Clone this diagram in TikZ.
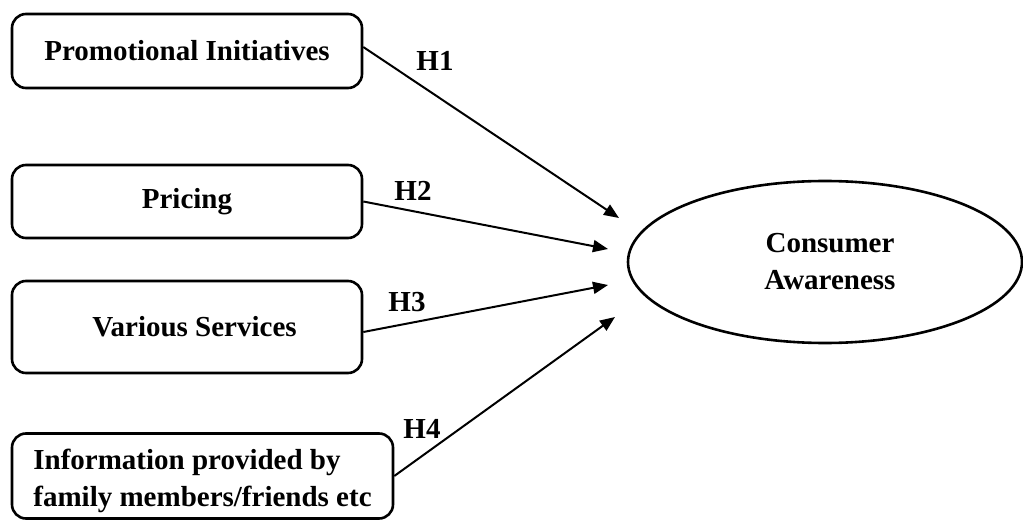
\documentclass[tikz,border=0pt]{standalone}
\usepackage{fontspec}
\setmainfont{Liberation Serif}
\usepackage{tikz}
\usetikzlibrary{arrows.meta,shapes.geometric}

\begin{document}
\begin{tikzpicture}[
    x=1pt, y=-1pt,
    every node/.style={font=\fontsize{29}{37}\selectfont\bfseries},
    factor/.style={rectangle, draw=black, line width=2.6pt, rounded corners=14pt, align=center, inner sep=0pt},
    outcome/.style={ellipse, draw=black, line width=2.6pt, align=center, inner sep=0pt},
    hyp/.style={inner sep=0pt},
    arrow/.style={-{Triangle[length=15pt,width=12pt]}, line width=2pt, draw=black}
]
\useasboundingbox (0,0) rectangle (1023,521);

% Factor boxes
\node[factor, minimum width=350pt, minimum height=74pt] (prom) at (187,51) {Promotional Initiatives};
\node[factor, minimum width=350pt, minimum height=73pt] (price) at (187,201.5) {Pricing};
\node[factor, minimum width=350pt, minimum height=92pt] (serv) at (187,327) {\hspace*{15pt}Various Services};
\node[factor, minimum width=381pt, minimum height=85pt, align=left] (info) at (202.5,476) {\rule{0pt}{30pt}Information provided by\\family members/friends etc};

% Outcome
\node[outcome, minimum width=394pt, minimum height=162pt] (aware) at (825,262) {\hspace*{10pt}Consumer\\\hspace*{10pt}Awareness};

% Arrow ends
\coordinate (t1) at (619,218);
\coordinate (t2) at (608,249);
\coordinate (t3) at (608,285);
\coordinate (t4) at (615,317);

% Hypotheses
\draw[arrow] ([yshift=4pt]prom.east) -- (t1);
\draw[arrow] (price.east) -- (t2);
\draw[arrow] ([yshift=-5pt]serv.east) -- (t3);
\draw[arrow] (info.east) -- (t4);

\node[hyp] (h1) at (435,61) {H1};
\node[hyp] (h2) at (413,191) {H2};
\node[hyp] (h3) at (407,302) {H3};
\node[hyp] (h4) at (422,429) {H4};

\end{tikzpicture}
\end{document}
